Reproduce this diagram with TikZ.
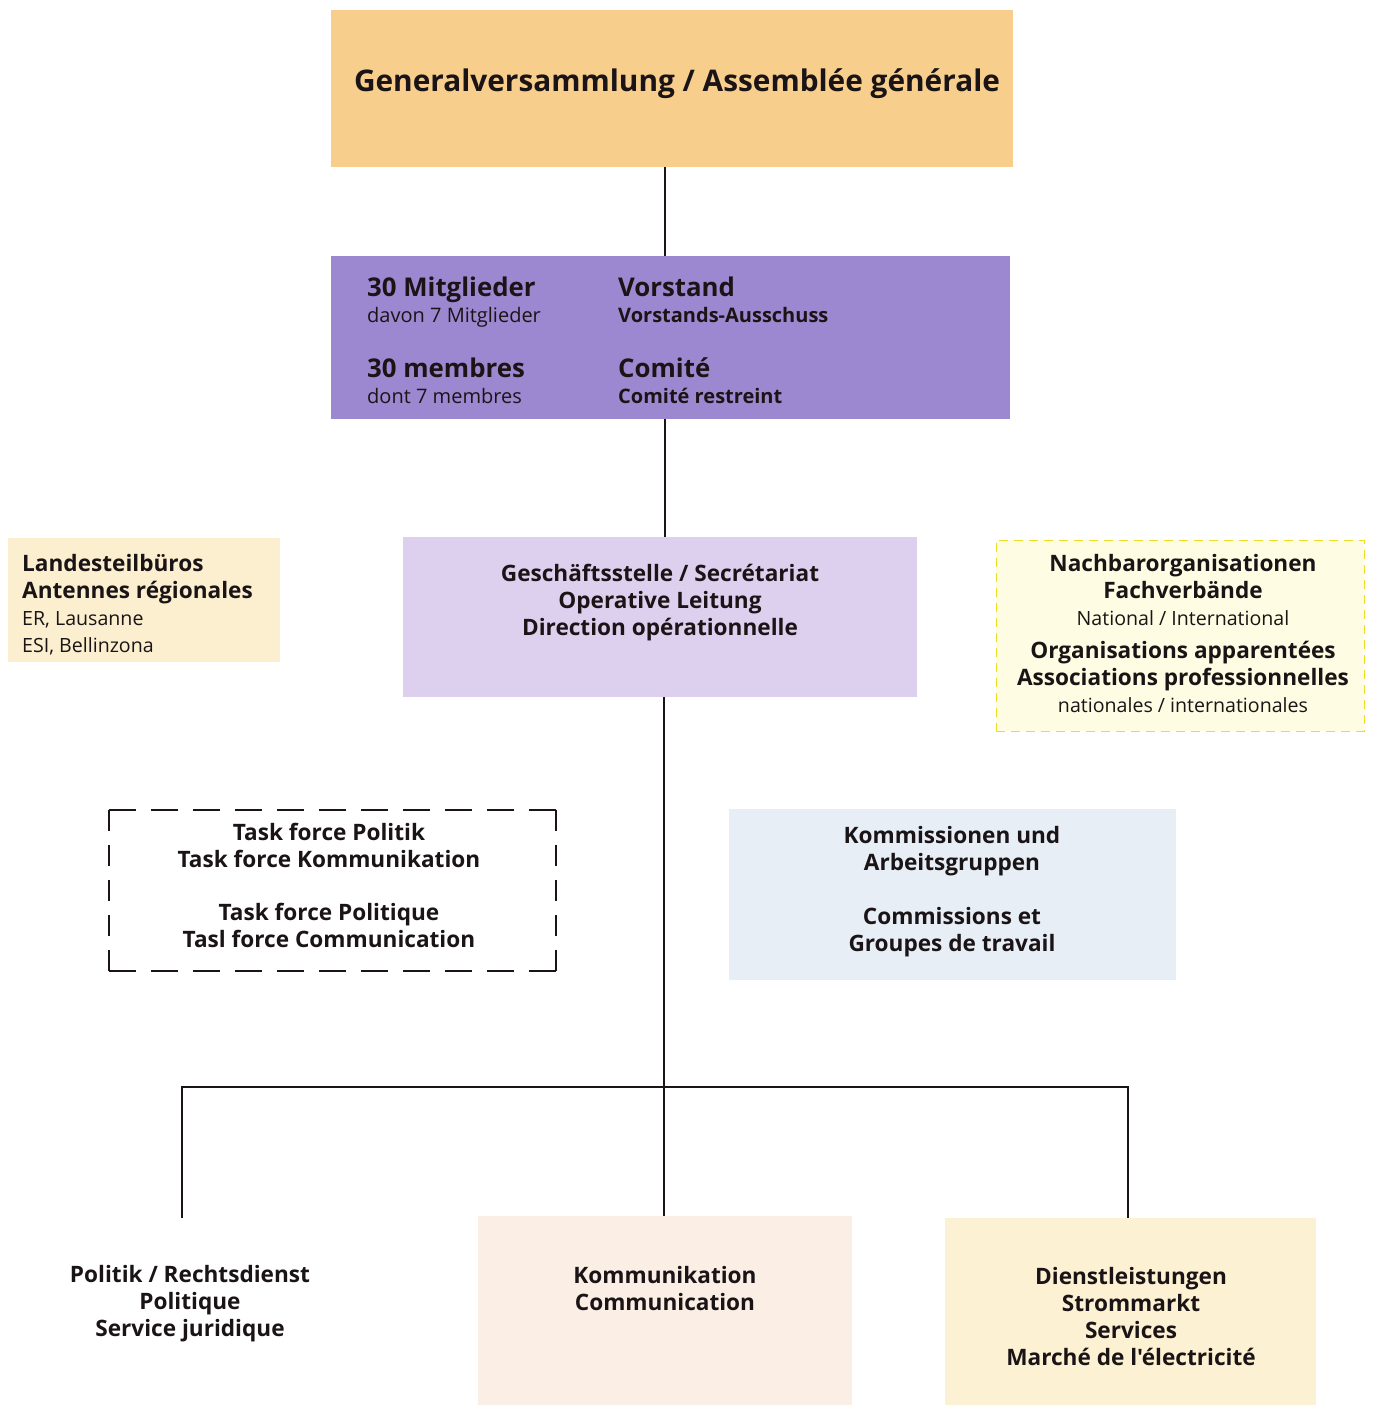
\documentclass[tikz,border=0pt]{standalone}
\usepackage{fontspec}
\setmainfont{Open Sans}[Ligatures=TeXOff]
\definecolor{gvcol}{HTML}{F8CE8C}
\definecolor{vscol}{HTML}{9C88D0}
\definecolor{gescol}{HTML}{DDD0EE}
\definecolor{landcol}{HTML}{FBEFCF}
\definecolor{nachcol}{HTML}{FEFCE2}
\definecolor{nachline}{HTML}{EEDD22}
\definecolor{kommcol}{HTML}{E7EEF6}
\definecolor{komcol}{HTML}{FBEEE5}
\definecolor{diencol}{HTML}{FCF1D2}
\definecolor{txt}{HTML}{1A1416}
\begin{document}
\begin{tikzpicture}[x=1pt,y=-1pt,
  box/.style={rectangle, inner sep=0pt, text=txt, align=center},
  conn/.style={draw=txt, line width=1.2pt},
  big/.style={font=\bfseries\fontsize{22.6}{27}\selectfont},
  mixed/.style={font=\fontsize{22.6}{27}\selectfont},
  lite/.style={font=\fontsize{19.6}{27}\selectfont},
  tfh/.style={draw=txt, line width=2.3pt, dash pattern=on 27pt off 15pt},
  tfv/.style={draw=txt, line width=2.3pt, dash pattern=on 21pt off 14pt},
  lab/.style={anchor=base west, inner sep=0pt, text=txt}]
\fill[white] (0,0) rectangle (1374,1405);
\useasboundingbox (0,0) rectangle (1374,1405);

% General assembly
\node[box, fill=gvcol, minimum width=682pt, minimum height=157pt] (gv) at (672,88.5) {};
\node[box, anchor=base, font=\bfseries\fontsize{29.8}{34}\selectfont] (gvtxt) at (677,92)
  {Generalversammlung / Assemblée générale};

% Vorstand
\node[box, fill=vscol, minimum width=679pt, minimum height=163pt] (vs) at (670.5,337.5) {};
\node[lab, font=\bfseries\fontsize{25.8}{28}\selectfont] (vs1) at (367,296) {30 Mitglieder};
\node[lab, font=\fontsize{20}{24}\selectfont] (vs2) at (367,322) {davon 7 Mitglieder};
\node[lab, font=\bfseries\fontsize{25.8}{28}\selectfont] (vs3) at (367,377) {30 membres};
\node[lab, font=\fontsize{20}{24}\selectfont] (vs4) at (367,403) {dont 7 membres};
\node[lab, font=\bfseries\fontsize{25.8}{28}\selectfont] (vs5) at (618,296) {Vorstand};
\node[lab, font=\bfseries\fontsize{20}{24}\selectfont] (vs6) at (618,322) {Vorstands-Ausschuss};
\node[lab, font=\bfseries\fontsize{25.8}{28}\selectfont] (vs7) at (618,377) {Comité};
\node[lab, font=\bfseries\fontsize{20}{24}\selectfont] (vs8) at (618,403) {Comité restreint};

% Geschäftsstelle
\node[box, fill=gescol, minimum width=514pt, minimum height=160pt] (ges) at (660,617) {};
\node[box, big, anchor=north] (gestxt) at (660,564)
  {Geschäftsstelle / Secrétariat\\Operative Leitung\\Direction opérationnelle};

% Landesteilbüros
\node[box, fill=landcol, minimum width=272pt, minimum height=124pt] (land) at (144,600) {};
\node[box, anchor=north west, align=left, mixed] (landtxt) at (22,554)
  {\textbf{Landesteilbüros}\\\textbf{Antennes régionales}\\{\fontsize{19.6}{27}\selectfont ER, Lausanne}\\{\fontsize{19.6}{27}\selectfont ESI, Bellinzona}};

% Nachbarorganisationen
\node[box, fill=nachcol, draw=nachline, line width=1pt, dash pattern=on 9pt off 6pt,
  minimum width=368pt, minimum height=191pt] (nach) at (1180,635.5) {};
\node[box, anchor=north, mixed] (nachtxt1) at (1183,554)
  {\textbf{Nachbarorganisationen}\\\textbf{Fachverbände}\\{\fontsize{19.6}{27}\selectfont National / International}};
\node[box, anchor=north, mixed] (nachtxt2) at (1183,641)
  {\textbf{Organisations apparentées}\\\textbf{Associations professionnelles}\\{\fontsize{19.6}{27}\selectfont nationales / internationales}};

% Task force
\node[box, minimum width=447pt, minimum height=161pt] (task) at (332.5,890.5) {};
\draw[tfh] (task.north west) -- (task.north east);
\draw[tfh] (task.south west) -- (task.south east);
\draw[tfv] (task.north west) -- (task.south west);
\draw[tfv] (task.north east) -- (task.south east);
\node[box, big, anchor=north] (tasktxt1) at (329,823) {Task force Politik\\Task force Kommunikation};
\node[box, big, anchor=north] (tasktxt2) at (329,903) {Task force Politique\\Tasl force Communication};

% Kommissionen
\node[box, fill=kommcol, minimum width=447pt, minimum height=171pt] (kommi) at (952.5,894.5) {};
\node[box, big, anchor=north] (kommitxt1) at (952,826) {Kommissionen und\\Arbeitsgruppen};
\node[box, big, anchor=north] (kommitxt2) at (952,907) {Commissions et\\Groupes de travail};

% Bottom row
\coordinate (poltop) at (182,1218);
\node[box, big, anchor=north] (pol) at (190,1265) {Politik / Rechtsdienst\\Politique\\Service juridique};
\node[box, fill=komcol, minimum width=374pt, minimum height=189pt] (kom) at (665,1310.5) {};
\node[box, big, anchor=north] (komtxt) at (665,1266) {Kommunikation\\Communication};
\node[box, fill=diencol, minimum width=371pt, minimum height=187pt] (dien) at (1130.5,1311.5) {};
\node[box, big, anchor=north] (dientxt) at (1131,1267) {Dienstleistungen\\Strommarkt\\Services\\Marché de l'électricité};

% Connectors
\coordinate (spine) at (665,0);
\coordinate (bus) at (664,1087);
\coordinate (busr) at (1128,1087);
\draw[conn] (gv.south -| spine) -- (vs.north -| spine);
\draw[conn] (vs.south -| spine) -- (ges.north -| spine);
\draw[conn] (ges.south -| bus) -- (kom.north -| bus);
\draw[conn] (poltop) |- (bus);
\draw[conn] (bus) -- (busr) -- (dien.north -| busr);
\end{tikzpicture}
\end{document}
